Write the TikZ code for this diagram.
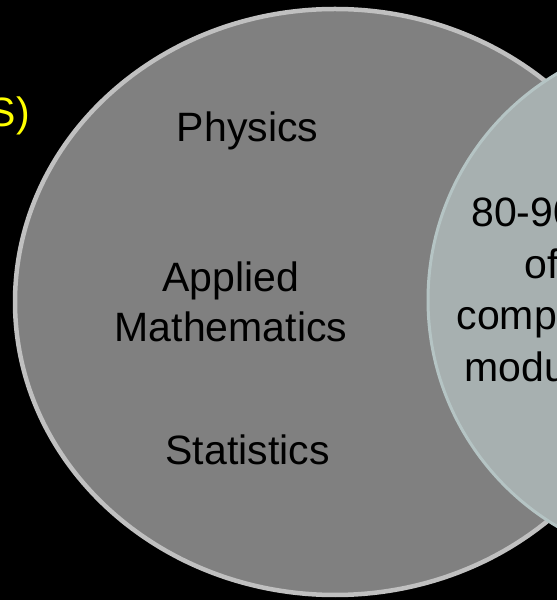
\documentclass[tikz,border=0pt]{standalone}
\usepackage{fontspec}
\setmainfont{Liberation Sans}
\definecolor{outergrey}{HTML}{808080}
\definecolor{outerrim}{HTML}{C0C0C0}
\definecolor{innergrey}{HTML}{A7B0B0}
\definecolor{innerrim}{HTML}{B5C4C4}
\definecolor{hiyellow}{HTML}{FFFF00}
\tikzset{subject/.style={font=\fontsize{41}{50}\selectfont, text=black, align=center}}

\begin{document}
\begin{tikzpicture}[x=1pt,y=1pt]
% background
\useasboundingbox (0,0) rectangle (557,600);
\fill[black] (0,0) rectangle (557,600);

% the two sets
\coordinate (bigc) at (335,298);
\coordinate (smallc) at (691,300);
\draw[fill=outergrey, draw=outerrim, line width=4.5] (bigc) ellipse [x radius=320, y radius=293];
\draw[fill=innergrey, draw=innerrim, line width=3] (smallc) circle [radius=263];

% labels in the big set
\node[subject, anchor=base] (phys) at (247.5,458) {Physics};
\node[subject] (applmath) at (231,298) {Applied\\Mathematics};
\node[subject, anchor=base] (stats) at (247.5,135) {Statistics};

% label in the overlap
\node[subject, font=\fontsize{41}{51.5}\selectfont] (share) at (542,310) {80-90\%\\of\\computer\\modules};

% cut title on the left
\node[font=\fontsize{41}{50}\selectfont, text=hiyellow, anchor=base east, inner sep=0] (title) at (30,473) {S)};
\end{tikzpicture}
\end{document}
